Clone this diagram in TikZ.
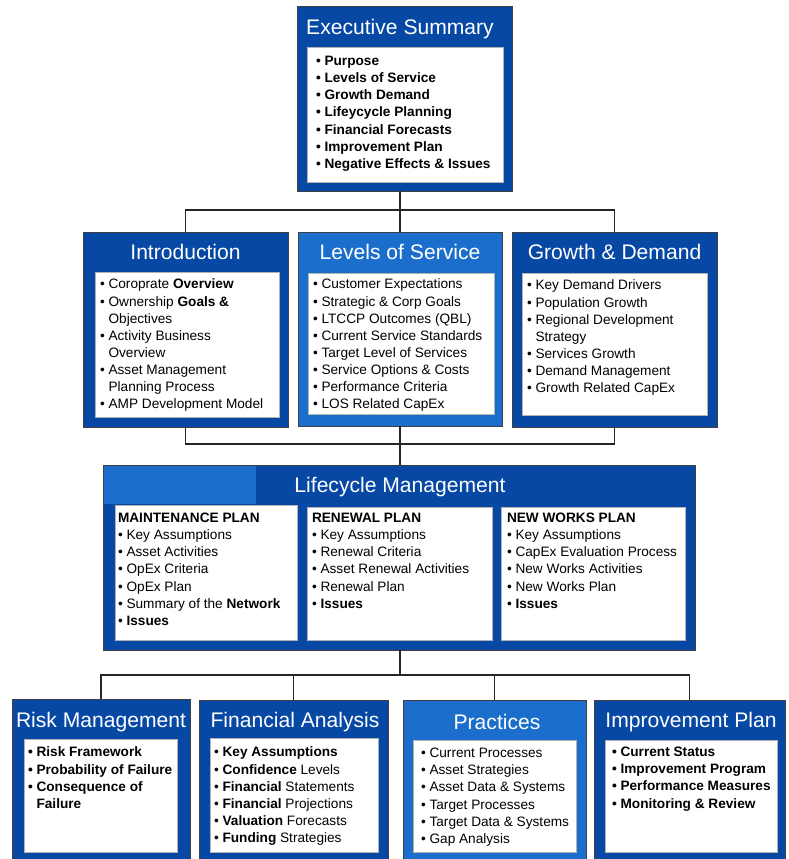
\documentclass[tikz,border=0pt]{standalone}
\usepackage{fontspec}
\setmainfont{Liberation Sans}
\usepackage{tikz}
\usetikzlibrary{positioning,fit}
\definecolor{aspblue}{RGB}{6,72,164}
\definecolor{asplight}{RGB}{28,110,204}
\newcommand{\bl}{\textbullet\ }
\newcommand{\hg}{\hphantom{\textbullet\ }}

\begin{document}
\begin{tikzpicture}[
    x=0.025cm, y=-0.025cm,
    every node/.style={inner sep=0pt, outer sep=0pt},
    secbox/.style={draw=black!75, line width=0.6pt, fill=aspblue},
    litebox/.style={secbox, fill=asplight},
    inbox/.style={draw=black!30, line width=0.4pt, fill=white},
    ttl/.style={text=white, font=\fontsize{15}{18}\selectfont},
    items/.style={anchor=north west, align=left, font=\fontsize{9.7}{12.2}\selectfont},
    bolditems/.style={items, font=\fontsize{9.7}{12.2}\selectfont\bfseries},
    link/.style={draw=black!85, line width=0.9pt}
]
\path[use as bounding box, fill=white] (0,0) rectangle (788,859);

% bus points
\coordinate (busA) at (400,210);
\coordinate (busB) at (400,444);
\coordinate (busC) at (400,675);

% executive summary
\node[secbox, fit={(297,6) (512,191)}] (exec) {};
\node[inbox, fit={(307,47) (503,182)}] (execin) {};
\node[ttl] (exectitle) at (400,29) {Executive Summary};
\node[bolditems] (exectext) at (316,56) {\bl Purpose\\ \bl Levels of Service\\ \bl Growth Demand\\
  \bl Lifeycycle Planning\\ \bl Financial Forecasts\\ \bl Improvement Plan\\ \bl Negative Effects \& Issues};

% second row
\node[secbox, fit={(83,232) (288,427)}] (intro) {};
\node[inbox, fit={(95,272) (279,417)}] (introin) {};
\node[ttl] (introtitle) at (185.5,252) {Introduction};
\node[items] (introtext) at (100,279) {\bl Coroprate \textbf{Overview}\\ \bl Ownership \textbf{Goals \&}\\ \hg Objectives\\
  \bl Activity Business\\ \hg Overview\\ \bl Asset Management\\ \hg Planning Process\\ \bl AMP Development Model};

\node[litebox, fit={(298,232) (502,426)}] (los) {};
\node[inbox, fit={(308,273) (494,414)}] (losin) {};
\node[ttl] (lostitle) at (400,252) {Levels of Service};
\node[items] (lostext) at (313,279) {\bl Customer Expectations\\ \bl Strategic \& Corp Goals\\ \bl LTCCP Outcomes (QBL)\\
  \bl Current Service Standards\\ \bl Target Level of Services\\ \bl Service Options \& Costs\\
  \bl Performance Criteria\\ \bl LOS Related CapEx};

\node[secbox, fit={(512,232) (717,427)}] (growth) {};
\node[inbox, fit={(522,273) (707,415)}] (growthin) {};
\node[ttl] (growthtitle) at (614.5,252) {Growth \& Demand};
\node[items] (growthtext) at (527,280) {\bl Key Demand Drivers\\ \bl Population Growth\\ \bl Regional Development\\
  \hg Strategy\\ \bl Services Growth\\ \bl Demand Management\\ \bl Growth Related CapEx};

% lifecycle management
\node[secbox, fit={(103,465) (695,650)}] (lifecycle) {};
\node[fill=asplight, fit={(104,466) (256,504)}] (lcshade) {};
\node[inbox, fit={(115,505) (297,640)}] (maintin) {};
\node[inbox, fit={(307,507) (492,640)}] (renewin) {};
\node[inbox, fit={(501,507) (685,640)}] (newin) {};
\node[ttl] (lifecycletitle) at (400,487) {Lifecycle Management};
\node[items] (mainttext) at (118,513) {\textbf{MAINTENANCE PLAN}\\ \bl Key Assumptions\\ \bl Asset Activities\\
  \bl OpEx Criteria\\ \bl OpEx Plan\\ \bl Summary of the \textbf{Network}\\ \bl \textbf{Issues}};
\node[items] (renewtext) at (312,513) {\textbf{RENEWAL PLAN}\\ \bl Key Assumptions\\ \bl Renewal Criteria\\
  \bl Asset Renewal Activities\\ \bl Renewal Plan\\ \bl \textbf{Issues}};
\node[items] (newtext) at (507,513) {\textbf{NEW WORKS PLAN}\\ \bl Key Assumptions\\ \bl CapEx Evaluation Process\\
  \bl New Works Activities\\ \bl New Works Plan\\ \bl \textbf{Issues}};

% bottom row
\node[secbox, fit={(12,699) (190,862)}] (risk) {};
\node[inbox, fit={(24,739) (177,852)}] (riskin) {};
\node[ttl] (risktitle) at (101,722) {Risk Management};
\node[bolditems] (risktext) at (28,747) {\bl Risk Framework\\ \bl Probability of Failure\\ \bl Consequence of\\ \hg Failure};

\node[secbox, fit={(199,700) (388,862)}] (fin) {};
\node[inbox, fit={(210,738) (378,852)}] (finin) {};
\node[ttl] (fintitle) at (295,722) {Financial Analysis};
\node[items] (fintext) at (214,747) {\bl \textbf{Key Assumptions}\\ \bl \textbf{Confidence} Levels\\ \bl \textbf{Financial} Statements\\
  \bl \textbf{Financial} Projections\\ \bl \textbf{Valuation} Forecasts\\ \bl \textbf{Funding} Strategies};

\node[litebox, fit={(403,700) (586,862)}] (prac) {};
\node[inbox, fit={(413,740) (576,852)}] (pracin) {};
\node[ttl] (practitle) at (497,722) {Practices};
\node[items] (practext) at (421,748) {\bl Current Processes\\ \bl Asset Strategies\\ \bl Asset Data \& Systems\\
  \bl Target Processes\\ \bl Target Data \& Systems\\ \bl Gap Analysis};

\node[secbox, fit={(594,700) (785,862)}] (improve) {};
\node[inbox, fit={(605,740) (777,852)}] (improvein) {};
\node[ttl] (improvetitle) at (691,722) {Improvement Plan};
\node[bolditems] (improvetext) at (612,747) {\bl Current Status\\ \bl Improvement Program\\ \bl Performance Measures\\ \bl Monitoring \& Review};

% connectors
\draw[link] (exec.south -| busA) -- (busA);
\draw[link] (intro.north) |- (busA) -| (growth.north);
\draw[link] (busA) -- (los.north);
\draw[link] (intro.south) |- (busB) -| (growth.south);
\draw[link] (los.south) -- (lifecycle.north -| busB);
\draw[link] (lifecycle.south -| busC) -- (busC);
\draw[link] (risk.north) |- (busC) -| (improve.north);
\draw[link] (fin.north) -- (fin.north |- busC);
\draw[link] (prac.north) -- (prac.north |- busC);

\end{tikzpicture}
\end{document}
